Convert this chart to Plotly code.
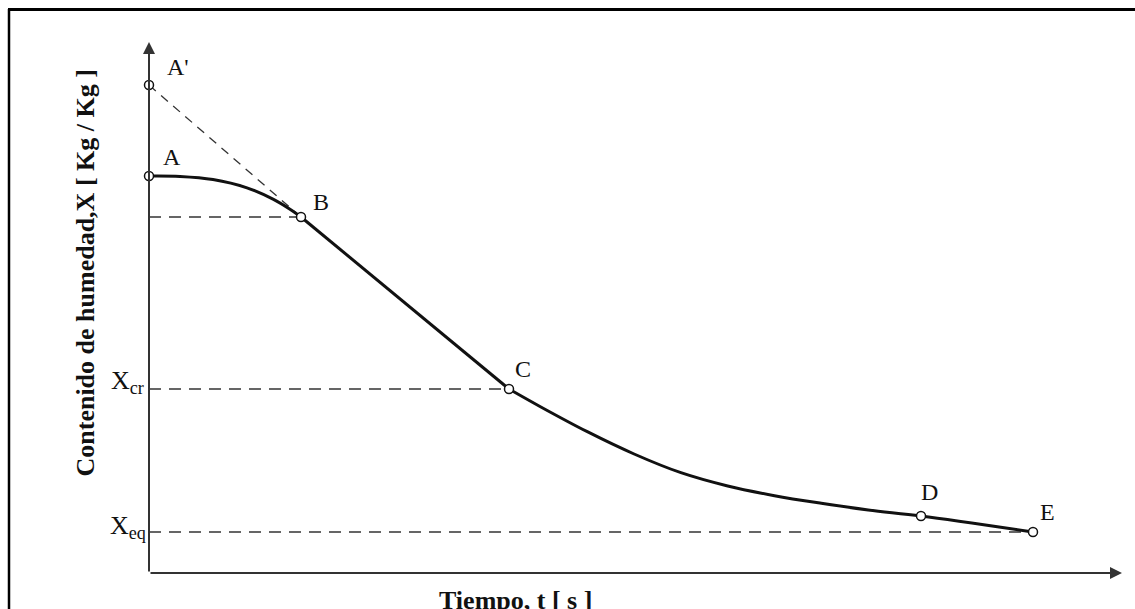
import plotly.graph_objects as go

# ---- data (arbitrary units) ----
seg_AB_t = [0.00, 0.31, 0.64, 0.98, 1.24, 1.41, 1.52]
seg_AB_X = [3.97, 3.966, 3.935, 3.852, 3.739, 3.638, 3.56]

seg_BC_t = [1.52, 3.60]
seg_BC_X = [3.56, 1.84]

seg_CE_t = [3.60, 3.914, 4.383, 4.851, 5.319, 5.787, 6.255, 6.723, 7.192, 7.72, 8.84]
seg_CE_X = [1.84, 1.663, 1.413, 1.190, 1.003, 0.870, 0.773, 0.697, 0.630, 0.57, 0.41]

point_names = ["A'", "A", "B", "C", "D", "E"]
point_t = [0.00, 0.00, 1.52, 3.60, 7.72, 8.84]
point_X = [4.88, 3.97, 3.56, 1.84, 0.57, 0.41]

tangent_t = [0.00, 1.52]
tangent_X = [4.88, 3.56]

X_cr = 1.84
X_eq = 0.41
X_B = 3.56

x_max = 9.73
y_max = 5.31

W, H = 1135, 609
L, R, T, B = 149, 13, 42, 36
pw, ph = W - L - R, H - T - B

def px_to_paper_x(px):
    return (px - L) / pw

def py_to_paper_y(py):
    return (H - B - py) / ph

serif = "Liberation Serif, Times New Roman, serif"
ink = "#111111"
dash_col = "#333333"

fig = go.Figure()

# horizontal dashed reference lines
for t_end, lvl in [(point_t[2], X_B), (point_t[3], X_cr), (point_t[5], X_eq)]:
    fig.add_trace(go.Scatter(x=[0, t_end], y=[lvl, lvl], mode="lines",
                             line=dict(color=dash_col, width=1.6, dash="12px,8px"),
                             hoverinfo="skip", showlegend=False))

# tangent A'-B
fig.add_trace(go.Scatter(x=tangent_t, y=tangent_X, mode="lines",
                         line=dict(color=dash_col, width=1.3, dash="9px,7px"),
                         hoverinfo="skip", showlegend=False))

# drying curve: A-B curved, B-C straight, C-E curved
fig.add_trace(go.Scatter(x=seg_AB_t, y=seg_AB_X, mode="lines",
                         line=dict(color=ink, width=3, shape="spline", smoothing=1.0),
                         showlegend=False))
fig.add_trace(go.Scatter(x=seg_BC_t, y=seg_BC_X, mode="lines",
                         line=dict(color=ink, width=3), showlegend=False))
fig.add_trace(go.Scatter(x=seg_CE_t, y=seg_CE_X, mode="lines",
                         line=dict(color=ink, width=3, shape="spline", smoothing=1.0),
                         showlegend=False))

# points
fig.add_trace(go.Scatter(x=point_t, y=point_X, mode="markers",
                         marker=dict(symbol="circle", size=9, color="white",
                                     line=dict(color=ink, width=1.5)),
                         cliponaxis=False, showlegend=False))

annotations = []
# axes with arrows
annotations.append(dict(x=x_max, y=0, ax=0, ay=0, xref="x", yref="y", axref="x", ayref="y",
                        showarrow=True, arrowhead=2, arrowsize=1.2, arrowwidth=2,
                        arrowcolor="#333333", text=""))
annotations.append(dict(x=0, y=y_max, ax=0, ay=0, xref="x", yref="y", axref="x", ayref="y",
                        showarrow=True, arrowhead=2, arrowsize=1.2, arrowwidth=2,
                        arrowcolor="#333333", text=""))

# point labels
offsets = {"A'": (29, 18), "A": (23, 19), "B": (20, 15), "C": (14, 20), "D": (8, 24), "E": (14, 20)}
for n, t, v in zip(point_names, point_t, point_X):
    dx, dy = offsets[n]
    annotations.append(dict(x=t, y=v, xref="x", yref="y", text=n, showarrow=False,
                            xshift=dx, yshift=dy, font=dict(family=serif, size=24, color=ink)))

# level labels
annotations.append(dict(x=0, y=X_cr, xref="x", yref="y", text="X<sub>cr</sub>", showarrow=False,
                        xanchor="right", xshift=-3, yshift=7,
                        font=dict(family=serif, size=26, color=ink)))
annotations.append(dict(x=0, y=X_eq, xref="x", yref="y", text="X<sub>eq</sub>", showarrow=False,
                        xanchor="right", xshift=-1, yshift=5,
                        font=dict(family=serif, size=26, color=ink)))

# axis titles
annotations.append(dict(x=px_to_paper_x(85), y=py_to_paper_y(273), xref="paper", yref="paper",
                        text="<b>Contenido de humedad,X [ Kg / Kg ]</b>", textangle=-90,
                        xshift=-17, showarrow=False, font=dict(family=serif, size=26, color=ink)))
annotations.append(dict(x=px_to_paper_x(515), y=py_to_paper_y(584), xref="paper", yref="paper",
                        text="<b>Tiempo, t [ s ]</b>", yanchor="top",
                        showarrow=False, font=dict(family=serif, size=26, color=ink)))

shapes = [
    dict(type="line", xref="paper", yref="paper",
         x0=px_to_paper_x(8), y0=py_to_paper_y(9.5), x1=px_to_paper_x(1140), y1=py_to_paper_y(9.5),
         line=dict(color="black", width=3)),
    dict(type="line", xref="paper", yref="paper",
         x0=px_to_paper_x(9), y0=py_to_paper_y(9), x1=px_to_paper_x(9), y1=py_to_paper_y(615),
         line=dict(color="black", width=2.5)),
]

fig.update_layout(
    width=W, height=H,
    margin=dict(l=L, r=R, t=T, b=B),
    paper_bgcolor="white", plot_bgcolor="white",
    xaxis=dict(range=[0, x_max], visible=False, fixedrange=True),
    yaxis=dict(range=[0, y_max], visible=False, fixedrange=True),
    annotations=annotations, shapes=shapes,
    showlegend=False,
)

fig.write_html("out.html", config={"displayModeBar": False})
